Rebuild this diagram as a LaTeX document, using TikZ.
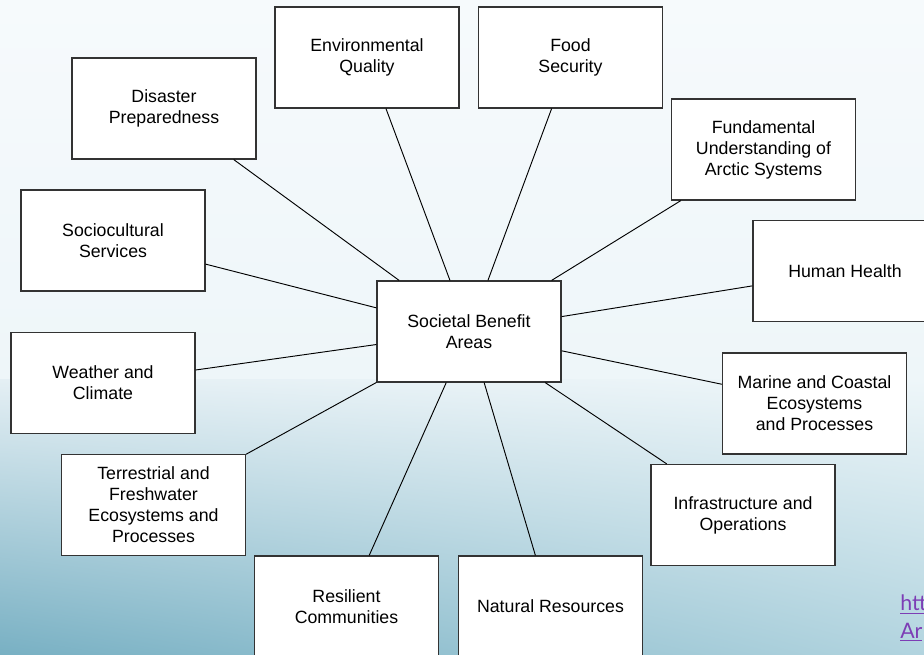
\documentclass[tikz,border=0pt]{standalone}
\usepackage{fontspec}
\setmainfont{Liberation Sans}
\newfontfamily\linkfont{Lato}
\usepackage{tikz}
\usetikzlibrary{shadings}

\definecolor{bgTop}{HTML}{F6FAFC}
\definecolor{bgMidL}{HTML}{E4EFF4}
\definecolor{bgMidR}{HTML}{EEF6F9}
\definecolor{bgLowL}{HTML}{78B0C3}
\definecolor{bgLowR}{HTML}{B2D4DF}
\definecolor{boxLine}{HTML}{333333}
\definecolor{linkPurple}{HTML}{7D3DB5}

\tikzset{
  sbabox/.style={draw=boxLine, line width=0.9pt, fill=white, minimum width=138pt,
    minimum height=75.75pt, align=center, inner sep=2pt,
    font=\fontsize{13.3}{15.8}\selectfont},
  spoke/.style={draw=black, line width=0.7pt}
}

\begin{document}
\begin{tikzpicture}[x=0.75pt,y=0.75pt,yscale=-1,xscale=1]
\useasboundingbox (0,0) rectangle (924,655);

%Shape: Background
\shade [top color=bgTop, bottom color=bgMidR] (0,0) rectangle (924,380);
\shade [upper left=bgMidL, upper right=bgMidR, lower left=bgLowL, lower right=bgLowR] (0,380) rectangle (924,655);

% Centre Node
\node [sbabox] (sba) at (469,331.5) {Societal Benefit\\Areas};

% Area Nodes
\node [sbabox] (env)  at (367,57.5)    {Environmental\\Quality};
\node [sbabox] (food) at (570.5,57.5)  {Food\\Security};
\node [sbabox] (dis)  at (164,108.5)   {Disaster\\Preparedness};
\node [sbabox] (fund) at (763.5,149.5) {Fundamental\\Understanding of\\Arctic Systems};
\node [sbabox] (soc)  at (113,240.5)   {Sociocultural\\Services};
\node [sbabox] (hum)  at (845,271)     {Human Health};
\node [sbabox] (wea)  at (103,383)     {Weather and\\Climate};
\node [sbabox] (mar)  at (814.5,403.5) {Marine and Coastal\\Ecosystems\\and Processes};
\node [sbabox] (ter)  at (153.5,505)   {Terrestrial and\\Freshwater\\Ecosystems and\\Processes};
\node [sbabox] (inf)  at (743,515)     {Infrastructure and\\Operations};
\node [sbabox] (res)  at (346.5,606.5) {Resilient\\Communities};
\node [sbabox] (nat)  at (550.5,606.5) {Natural Resources};

% Spokes
\foreach \area in {env,food,dis,fund,soc,hum,wea,mar,ter,inf,res,nat}
  \draw [spoke] (sba) -- (\area);

% Text Node
\node [anchor=north west, inner sep=0pt, align=left, text=linkPurple,
  font=\linkfont\fontsize{16}{20.5}\selectfont] (link) at (900,595)
  {\underline{htt}\\\underline{Ar}};

\end{tikzpicture}
\end{document}
